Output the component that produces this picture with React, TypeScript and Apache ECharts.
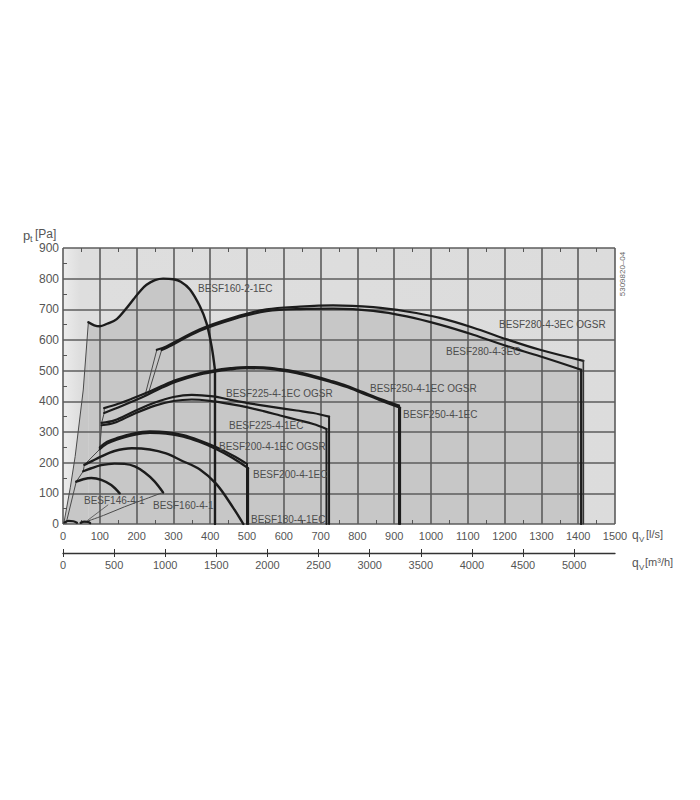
import React, { useEffect, useRef } from "react";
import * as echarts from "echarts";

// ---- axis ticks ----
const flowTicksM3h = [0, 500, 1000, 1500, 2000, 2500, 3000, 3500, 4000, 4500, 5000];

// ---- fan curves: [q (l/s), p (Pa)] ----
const besf160_2_1ec = [[69, 658], [85, 648], [100, 645], [120, 653], [146, 668], [170, 700], [191, 732], [210, 760], [227, 780], [250, 795], [272, 800], [300, 798], [320, 790], [345, 765], [372, 710], [390, 655], [404, 578], [413, 502]];
const besf160_2_1ecLeft = [[2, 0], [20, 120], [33, 220], [55, 437], [69, 658]];
const besf160_2_1ecDrop = [[413, 502], [413, 0]];

const besf280_4_3ecOgsr = [[255, 568], [282, 580], [372, 635], [463, 673], [553, 700], [644, 709], [734, 713], [843, 707], [934, 693], [1024, 672], [1115, 640], [1206, 602], [1296, 568], [1414, 532]];
const besf280_4_3ecOgsrLeft = [[223, 420], [255, 568]];
const besf280_4_3ecOgsrDrop = [[1414, 532], [1414, 0]];
const besf280_4_3ec = [[268, 567], [282, 575], [372, 630], [463, 668], [553, 694], [644, 701], [734, 702], [843, 695], [934, 677], [1024, 650], [1115, 617], [1206, 580], [1296, 547], [1408, 503]];
const besf280_4_3ecLeft = [[232, 426], [268, 567]];
const besf280_4_3ecDrop = [[1408, 503], [1408, 0]];

const besf250_4_1ecOgsr = [[112, 378], [150, 392], [190, 410], [227, 428], [268, 450], [309, 470], [360, 488], [408, 500], [455, 508], [500, 512], [545, 511], [590, 505], [635, 496], [680, 483], [725, 468], [771, 451], [815, 430], [861, 408], [913, 386]];
const besf250_4_1ecOgsrDrop = [[913, 386], [913, 0]];
const besf250_4_1ec = [[112, 362], [150, 380], [190, 400], [227, 420], [268, 444], [309, 465], [360, 484], [408, 496], [455, 504], [500, 508], [545, 507], [590, 501], [635, 492], [680, 479], [725, 464], [771, 447], [815, 426], [861, 404], [916, 379]];
const besf250_4_1ecDrop = [[916, 379], [916, 0]];

const besf225_4_1ecOgsr = [[105, 330], [140, 338], [191, 366], [250, 396], [300, 414], [350, 421], [408, 416], [455, 405], [499, 395], [545, 386], [590, 378], [635, 370], [680, 362], [723, 350]];
const besf225_4_1ecOgsrDrop = [[723, 350], [723, 0]];
const besf225_4_1ec = [[105, 322], [140, 330], [191, 358], [250, 386], [300, 401], [350, 406], [408, 400], [455, 391], [499, 381], [545, 368], [590, 354], [635, 340], [680, 326], [716, 310]];
const besf225_4_1ecDrop = [[716, 310], [716, 0]];

const besf200_4_1ecOgsr = [[100, 250], [120, 268], [146, 280], [190, 295], [236, 302], [280, 300], [327, 290], [370, 273], [417, 250], [460, 224], [500, 196]];
const besf200_4_1ecOgsrDrop = [[500, 196], [500, 0]];
const besf200_4_1ec = [[100, 244], [120, 262], [146, 275], [190, 290], [236, 297], [280, 295], [327, 285], [370, 268], [417, 244], [460, 216], [503, 182]];
const besf200_4_1ecDrop = [[503, 182], [503, 0]];

const besf180_4_1ec = [[58, 193], [80, 206], [100, 218], [140, 238], [187, 247], [236, 243], [280, 230], [320, 208], [372, 178], [417, 130], [463, 52], [490, 0]];

const besf160_4_1 = [[55, 172], [75, 181], [104, 192], [140, 197], [167, 196], [195, 188], [222, 168], [248, 140], [272, 103]];
const besf160_4_1Lower = [[59, 6], [110, 28], [167, 56], [225, 82], [272, 103]];

const besf146_4_1 = [[36, 138], [55, 146], [77, 150], [104, 144], [131, 127], [154, 100]];
const besf146_4_1Leader = [[68, 13], [122, 62]];

const lowSpeedA = [[4, 5], [15, 10], [28, 9], [38, 4]];
const lowSpeedB = [[48, 4], [58, 8], [68, 7], [74, 3]];

const startBoundary = [[8, 0], [36, 138], [55, 172], [58, 193], [100, 244], [100, 250], [105, 322], [105, 330], [112, 362], [112, 378]];

const FONT = "'Liberation Sans', Arial, sans-serif";

function fill(data: number[][], color: string, smooth: number) {
  return {
    type: "line", data, smooth, showSymbol: false, silent: true, z: 1,
    lineStyle: { width: 0, opacity: 0 },
    areaStyle: { color, opacity: 1, origin: "start" },
  };
}
function curve(data: number[][], width: number, color: string, smooth: number) {
  return {
    type: "line", data, smooth, showSymbol: false, silent: true, z: 5,
    lineStyle: { width, color, cap: "round", join: "round" },
  };
}

const labels: [string, number, number][] = [
  ["BESF160-2-1EC", 198, 288],
  ["BESF280-4-3EC OGSR", 499, 324],
  ["BESF280-4-3EC", 446, 351],
  ["BESF250-4-1EC OGSR", 370, 388],
  ["BESF250-4-1EC", 403, 414],
  ["BESF225-4-1EC OGSR", 226, 393],
  ["BESF225-4-1EC", 229, 425],
  ["BESF200-4-1EC OGSR", 219, 446],
  ["BESF200-4-1EC", 253, 474],
  ["BESF180-4-1EC", 251, 519],
  ["BESF146-4-1", 84, 500],
  ["BESF160-4-1", 153, 505],
];

const plain = (v: number) => String(v);

export default function App() {
  const ref = useRef<HTMLDivElement>(null);
  useEffect(() => {
    document.body.style.margin = "0";
    if (!ref.current) return;
    const chart = echarts.init(ref.current, null, { renderer: "svg" });
    const thick = "#1c1c1c";
    const thin = "#4a4a4a";
    const S = 0.35;
    const minor = { show: true, splitNumber: 2, length: 4, lineStyle: { color: "#555", width: 1 } };
    const hiddenInsideTick = { show: true, inside: true, length: 0, lineStyle: { width: 0, opacity: 0 } };
    const option: any = {
      animation: false,
      backgroundColor: "#ffffff",
      grid: [
        {
          left: 63, top: 248, width: 552, height: 276, show: true, borderWidth: 0,
          outerBoundsMode: "none",
          backgroundColor: {
            type: "linear", x: 0, y: 0, x2: 1, y2: 0,
            colorStops: [
              { offset: 0, color: "#ececec" },
              { offset: 0.03, color: "#dedede" },
              { offset: 1, color: "#dcdcdc" },
            ],
          },
        },
        { left: 63, top: 552, width: 552, height: 1, show: false, outerBoundsMode: "none" },
      ],
      xAxis: [
        {
          gridIndex: 0, type: "value", min: 0, max: 1500, interval: 100, position: "bottom", z: 3,
          axisLine: { show: false },
          axisTick: hiddenInsideTick,
          minorTick: minor,
          splitLine: { show: true, lineStyle: { color: "#5c5c5c", width: 1.6 } },
          axisLabel: { color: "#555", fontSize: 11, margin: 6, fontFamily: FONT, formatter: plain },
        },
        {
          gridIndex: 0, type: "value", min: 0, max: 1500, interval: 100, position: "top", z: 3,
          axisLine: { show: false },
          axisTick: hiddenInsideTick,
          minorTick: minor,
          splitLine: { show: false },
          axisLabel: { show: false },
        },
        {
          gridIndex: 1, type: "value", min: 0, max: 5400, position: "bottom",
          axisLine: { show: true, lineStyle: { color: "#333", width: 1.3 } },
          axisTick: { show: true, customValues: flowTicksM3h, length: 4, lineStyle: { color: "#333", width: 1 } },
          axisLabel: { customValues: flowTicksM3h, color: "#555", fontSize: 11, margin: 6, fontFamily: FONT, formatter: plain },
          splitLine: { show: false },
        },
        {
          gridIndex: 1, type: "value", min: 0, max: 5400, position: "bottom",
          axisLine: { show: false },
          axisTick: { show: true, inside: true, customValues: flowTicksM3h, length: 4, lineStyle: { color: "#333", width: 1 } },
          axisLabel: { show: false },
          splitLine: { show: false },
        },
      ],
      yAxis: [
        {
          gridIndex: 0, type: "value", min: 0, max: 900, interval: 100, z: 3,
          axisLine: { show: false },
          axisTick: hiddenInsideTick,
          minorTick: minor,
          splitLine: { show: true, lineStyle: { color: "#5c5c5c", width: 1.6 } },
          axisLabel: { color: "#555", fontSize: 12, margin: 4, fontFamily: FONT, formatter: plain },
        },
        { gridIndex: 1, type: "value", show: false },
      ],
      series: [
        // fills
        fill(besf280_4_3ecOgsrLeft, "#cdcdcd", 0),
        fill(besf280_4_3ecOgsr, "#cdcdcd", S),
        fill(besf280_4_3ecLeft, "#c7c7c7", 0),
        fill(besf280_4_3ec, "#c7c7c7", S),
        fill(besf160_2_1ecLeft, "#c7c7c7", 0),
        fill(besf160_2_1ec, "#c7c7c7", S),
        // thin boundary lines
        curve(besf160_2_1ecLeft, 1, thin, 0),
        curve(startBoundary, 1, thin, 0),
        curve(besf280_4_3ecOgsrLeft, 1, thin, 0),
        curve(besf280_4_3ecLeft, 1, thin, 0),
        curve(besf160_4_1Lower, 1, thin, S),
        curve(besf146_4_1Leader, 0.8, thin, 0),
        // fan curves
        curve(besf160_2_1ec, 2.4, thick, S),
        curve(besf160_2_1ecDrop, 2.4, thick, 0),
        curve(besf280_4_3ecOgsr, 2.2, thick, S),
        curve(besf280_4_3ecOgsrDrop, 1.6, "#333", 0),
        curve(besf280_4_3ec, 2.2, thick, S),
        curve(besf280_4_3ecDrop, 2.2, thick, 0),
        curve(besf250_4_1ecOgsr, 2.2, thick, S),
        curve(besf250_4_1ecOgsrDrop, 2, thick, 0),
        curve(besf250_4_1ec, 2.2, thick, S),
        curve(besf250_4_1ecDrop, 2, thick, 0),
        curve(besf225_4_1ecOgsr, 2.2, thick, S),
        curve(besf225_4_1ecOgsrDrop, 2, thick, 0),
        curve(besf225_4_1ec, 2.2, thick, S),
        curve(besf225_4_1ecDrop, 2, thick, 0),
        curve(besf200_4_1ecOgsr, 2.2, thick, S),
        curve(besf200_4_1ecOgsrDrop, 2, thick, 0),
        curve(besf200_4_1ec, 2.2, thick, S),
        curve(besf200_4_1ecDrop, 2, thick, 0),
        curve(besf180_4_1ec, 2.4, thick, S),
        curve(besf160_4_1, 2.4, thick, S),
        curve(besf146_4_1, 2.4, thick, S),
        curve(lowSpeedA, 2.2, thick, S),
        curve(lowSpeedB, 2.2, thick, S),
      ],
      graphic: [
        ...labels.map(([t, x, y]) => ({
          type: "text", x, y, z: 10, silent: true,
          style: { text: t, fontSize: 10, fontFamily: FONT, fill: "#4d4d4d", align: "left", verticalAlign: "middle" },
        })),
        { type: "text", x: 23, y: 235, style: { text: "p", fontSize: 13, fontFamily: FONT, fill: "#555", verticalAlign: "middle" } },
        { type: "text", x: 30, y: 239, style: { text: "t", fontSize: 9, fontFamily: FONT, fill: "#555", verticalAlign: "middle" } },
        { type: "text", x: 35, y: 234, style: { text: "[Pa]", fontSize: 12, fontFamily: FONT, fill: "#555", verticalAlign: "middle" } },
        { type: "text", x: 632, y: 535, style: { text: "q", fontSize: 12, fontFamily: FONT, fill: "#555", verticalAlign: "middle" } },
        { type: "text", x: 639, y: 539, style: { text: "V", fontSize: 8, fontFamily: FONT, fill: "#555", verticalAlign: "middle" } },
        { type: "text", x: 646, y: 534, style: { text: "[l/s]", fontSize: 11, fontFamily: FONT, fill: "#555", verticalAlign: "middle" } },
        { type: "text", x: 632, y: 563, style: { text: "q", fontSize: 12, fontFamily: FONT, fill: "#555", verticalAlign: "middle" } },
        { type: "text", x: 639, y: 567, style: { text: "V", fontSize: 8, fontFamily: FONT, fill: "#555", verticalAlign: "middle" } },
        { type: "text", x: 645, y: 562, style: { text: "[m³/h]", fontSize: 11, fontFamily: FONT, fill: "#555", verticalAlign: "middle" } },
        {
          type: "text", x: 622, y: 274, rotation: Math.PI / 2,
          style: { text: "5309820–04", fontSize: 8, fontFamily: FONT, fill: "#666", align: "center", verticalAlign: "middle" },
        },
      ],
    };
    chart.setOption(option);
    return () => chart.dispose();
  }, []);
  return <div ref={ref} style={{ width: 700, height: 800 }} />;
}
